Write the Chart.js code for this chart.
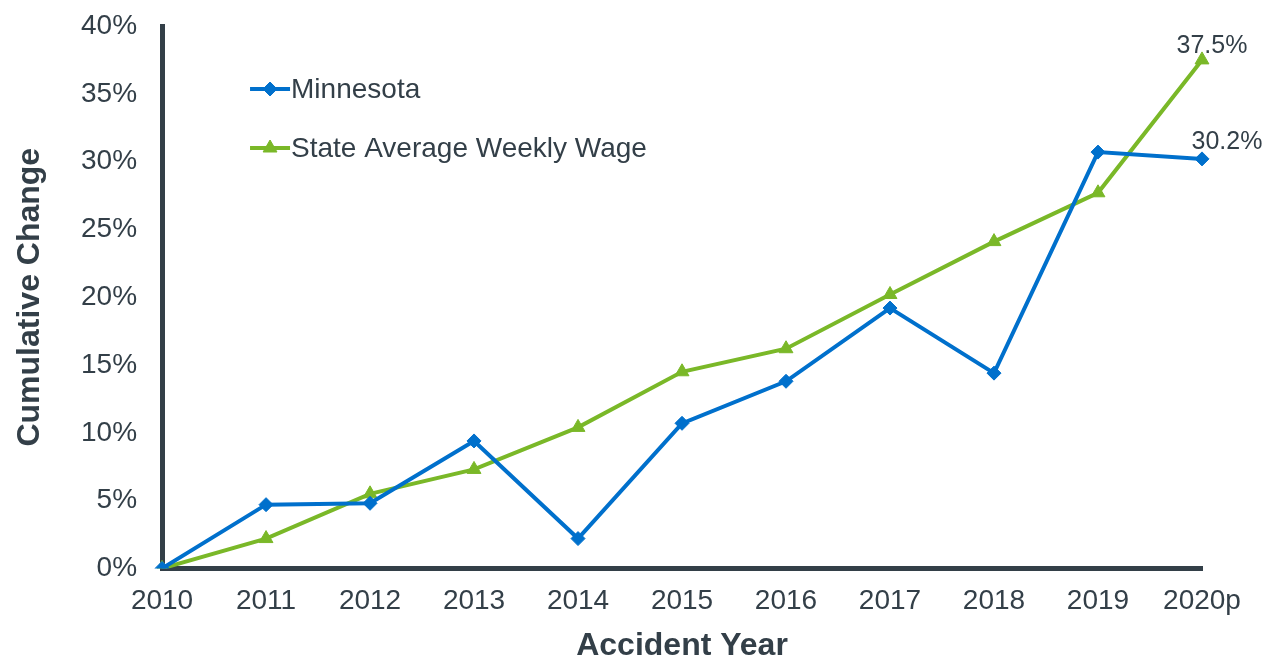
<!DOCTYPE html>
<html>
<head>
<meta charset="utf-8">
<script src="https://cdn.jsdelivr.net/npm/chart.js@4"></script>
<style>
  html, body { margin: 0; padding: 0; background: #fff; }
  #wrap { width: 1264px; height: 659px; }
</style>
</head>
<body>
<div id="wrap"><canvas id="grafico"></canvas></div>
<script>
const anos = ['2010', '2011', '2012', '2013', '2014', '2015', '2016', '2017', '2018', '2019', '2020p'];
const minnesota = [0, 4.7, 4.8, 9.4, 2.2, 10.7, 13.8, 19.2, 14.4, 30.7, 30.2];
const salarioMedio = [0, 2.2, 5.5, 7.3, 10.4, 14.5, 16.2, 20.2, 24.1, 27.7, 37.5];
const ticksY = [0, 5, 10, 15, 20, 25, 30, 35, 40];

const corTexto = '#333f48';
const azul = '#0070cc';
const verde = '#7ab828';

// legenda e rótulos finais desenhados à mão
const extras = {
    id: 'extras',
    afterDraw(chart) {
        const ctx = chart.ctx;
        const area = chart.chartArea;
        ctx.save();
        ctx.font = '28px "Liberation Sans", Arial, sans-serif';
        ctx.textBaseline = 'middle';
        const itens = [
            { label: 'Minnesota', cor: azul, estilo: 'rectRot', r: 7, dy: 63 },
            { label: 'State Average Weekly Wage', cor: verde, estilo: 'triangle', r: 8, dy: 122 }
        ];
        itens.forEach(function (it) {
            const y = area.top + it.dy;
            const x0 = area.left + 88;
            ctx.strokeStyle = it.cor;
            ctx.lineWidth = 4;
            ctx.beginPath();
            ctx.moveTo(x0, y);
            ctx.lineTo(x0 + 40, y);
            ctx.stroke();
            ctx.fillStyle = it.cor;
            ctx.lineWidth = 1;
            Chart.helpers.drawPoint(ctx, { pointStyle: it.estilo, radius: it.r, borderWidth: 1 }, x0 + 20, y);
            ctx.fillStyle = corTexto;
            ctx.textAlign = 'left';
            ctx.fillText(it.label, x0 + 41, y + 1);
        });

        ctx.font = '25px "Liberation Sans", Arial, sans-serif';
        ctx.textAlign = 'center';
        ctx.fillStyle = corTexto;
        const ultimo = anos.length - 1;
        const pV = chart.getDatasetMeta(1).data[ultimo];
        ctx.fillText(salarioMedio[ultimo].toFixed(1) + '%', pV.x + 10, pV.y - 14);
        const pA = chart.getDatasetMeta(0).data[ultimo];
        ctx.fillText(minnesota[ultimo].toFixed(1) + '%', pA.x + 25, pA.y - 17);
        ctx.restore();
    }
};

document.addEventListener('DOMContentLoaded', function () {
    Chart.defaults.font.family = '"Liberation Sans", Arial, sans-serif';
    Chart.defaults.color = corTexto;

    const grafico = new Chart(document.getElementById('grafico'), {
        type: 'line',
        data: {
            labels: anos,
            datasets: [{
                label: 'Minnesota',
                data: minnesota,
                borderColor: azul,
                backgroundColor: azul,
                borderWidth: 4,
                pointStyle: 'rectRot',
                pointRadius: 7,
                pointBorderWidth: 1,
                tension: 0
            }, {
                label: 'State Average Weekly Wage',
                data: salarioMedio,
                borderColor: verde,
                backgroundColor: verde,
                borderWidth: 4,
                pointStyle: 'triangle',
                pointRadius: 8,
                pointBorderWidth: 1,
                tension: 0
            }]
        },
        options: {
            responsive: true,
            maintainAspectRatio: false,
            animation: false,
            layout: { padding: { top: 0, left: 14, right: 62, bottom: 0 } },
            plugins: {
                legend: { display: false },
                tooltip: { enabled: false }
            },
            scales: {
                x: {
                    offset: false,
                    grid: { display: false, drawTicks: false },
                    border: { display: true, color: corTexto, width: 5 },
                    ticks: { font: { size: 28 }, color: corTexto, padding: 16, maxRotation: 0, autoSkip: false },
                    title: {
                        display: true,
                        text: 'Accident Year',
                        font: { size: 32, weight: 'bold', lineHeight: 1 },
                        color: corTexto,
                        padding: { top: -4, bottom: -3 }
                    }
                },
                y: {
                    min: 0,
                    max: 40,
                    afterBuildTicks: function (axis) {
                        axis.ticks = ticksY.map(function (v) { return { value: v }; });
                    },
                    afterFit: function (axis) {
                        axis.paddingTop = 26;
                    },
                    grid: { display: false, drawTicks: false },
                    border: { display: true, color: corTexto, width: 5 },
                    ticks: {
                        font: { size: 28 },
                        color: corTexto,
                        padding: 25,
                        callback: function (v) { return v + '%'; }
                    },
                    title: {
                        display: true,
                        text: 'Cumulative Change',
                        font: { size: 32, weight: 'bold', lineHeight: 1 },
                        color: corTexto,
                        padding: { top: 0, bottom: 10 }
                    }
                }
            }
        },
        plugins: [extras]
    });
});
</script>
</body>
</html>
